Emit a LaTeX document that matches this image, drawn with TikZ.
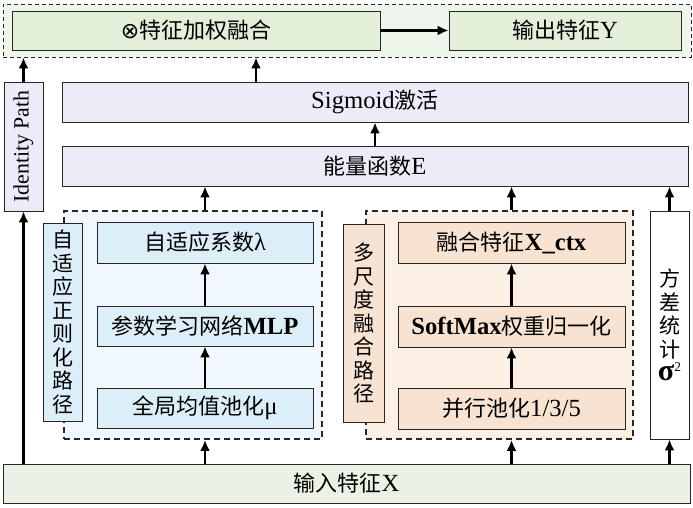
\documentclass[tikz,border=0pt]{standalone}
\usepackage{fontspec}
\setmainfont{Liberation Serif}[Scale=1.12]
\newfontfamily\cjk{Noto Sans CJK SC}
\newfontfamily\symf{DejaVu Sans}
\usepackage{tikz}
\usetikzlibrary{arrows.meta,positioning}
\newcommand{\zh}[1]{{\cjk #1}}

\definecolor{topfill}{HTML}{EEF5EA}
\definecolor{grnfill}{HTML}{E3EFD9}
\definecolor{inpfill}{HTML}{EBF2E5}
\definecolor{lavfill}{HTML}{EEEAF8}
\definecolor{lgrpfill}{HTML}{F0F8FD}
\definecolor{bluefill}{HTML}{DCEEF8}
\definecolor{rgrpfill}{HTML}{FCF0E4}
\definecolor{peachfill}{HTML}{F8E3D2}

\begin{document}
\begin{tikzpicture}[x=1pt,y=-1pt]

  % Define styles
  \tikzset{
    boxnode/.style={draw=black!85, line width=0.8pt, rectangle, inner sep=0pt,
      font=\fontsize{22}{28}\selectfont},
    grnnode/.style={boxnode, fill=grnfill},
    lavnode/.style={boxnode, fill=lavfill},
    bluenode/.style={boxnode, fill=bluefill},
    peachnode/.style={boxnode, fill=peachfill},
    vlabel/.style={align=center, font=\fontsize{21}{23.5}\selectfont},
    grpbox/.style={draw=black!85, line width=1.8pt, dash pattern=on 6pt off 4pt,
      rectangle, inner sep=0pt},
    arrowline/.style={-{Latex[length=11pt,width=10pt]}, line width=2.2pt}
  }

  \useasboundingbox (0,0) rectangle (693,507);

  % Output part
  \node[grpbox, line width=0.9pt, dash pattern=on 4pt off 3pt, fill=topfill,
    minimum width=688pt, minimum height=53pt] (topgrp) at (347,30.5) {};
  \node[grnnode, minimum width=368pt, minimum height=39pt] (fuse) at (196,30.5)
    {{\symf ⊗}\zh{特征加权融合}};
  \node[grnnode, minimum width=232pt, minimum height=39pt] (out) at (565,30.5)
    {\zh{输出特征}Y};

  % Identity path, activation and energy
  \node[lavnode, minimum width=129pt, minimum height=39pt, rotate=90,
    font=\fontsize{19.5}{24}\selectfont] (idp) at (23.5,146.5) {Identity Path};
  \node[lavnode, minimum width=626pt, minimum height=40pt] (sig) at (375,102)
    {Sigmoid\zh{激活}};
  \node[lavnode, minimum width=626pt, minimum height=40pt] (energy) at (375,166)
    {\zh{能量函数}E};

  % Adaptive regularization path
  \node[grpbox, fill=lgrpfill, minimum width=258pt, minimum height=228pt] (lgrp)
    at (193,325) {};
  \node[bluenode, vlabel, minimum width=39pt, minimum height=198pt] (lpath)
    at (62.5,322) {\zh{自}\\\zh{适}\\\zh{应}\\\zh{正}\\\zh{则}\\\zh{化}\\\zh{路}\\\zh{径}};
  \node[bluenode, minimum width=216pt, minimum height=41pt] (lam) at (205,242.5)
    {\zh{自适应系数}λ};
  \node[bluenode, minimum width=216pt, minimum height=40pt] (mlp) at (205,326)
    {\zh{参数学习网络}\textbf{MLP}};
  \node[bluenode, minimum width=216pt, minimum height=40pt] (mu) at (205,408)
    {\zh{全局均值池化}μ};

  % Multi-scale fusion path
  \node[grpbox, fill=rgrpfill, minimum width=267pt, minimum height=228pt] (rgrp)
    at (499.5,325) {};
  \node[peachnode, vlabel, minimum width=41pt, minimum height=198pt] (rpath)
    at (363.5,323) {\zh{多}\\\zh{尺}\\\zh{度}\\\zh{融}\\\zh{合}\\\zh{路}\\\zh{径}};
  \node[peachnode, minimum width=227pt, minimum height=41pt] (ctx) at (511.5,242.5)
    {\zh{融合特征}\textbf{X\_ctx}};
  \node[peachnode, minimum width=227pt, minimum height=41pt] (smax) at (511.5,326.5)
    {\textbf{SoftMax}\zh{权重归一化}};
  \node[peachnode, minimum width=227pt, minimum height=41pt] (pool) at (511.5,408.5)
    {\zh{并行池化}1/3/5};

  % Variance
  \node[boxnode, vlabel, fill=white, minimum width=39pt, minimum height=228pt]
    (var) at (669.5,325) {\zh{方}\\\zh{差}\\\zh{统}\\\zh{计}\\
    {\fontsize{27}{25}\selectfont\bfseries σ}{\fontsize{12}{12}\selectfont\raisebox{9pt}{2}}};

  % Input
  \node[grnnode, fill=inpfill, minimum width=687pt, minimum height=39pt] (inp)
    at (346.5,483.5) {\zh{输入特征}X};

  % Connectors
  \draw[arrowline] (fuse) -- (out);
  \draw[arrowline] (inp.north -| idp) -- (idp);
  \draw[arrowline] (idp) -- (idp |- topgrp.south);
  \draw[arrowline] ([xshift=-119pt]sig.north) -- ([xshift=-119pt]sig.north |- topgrp.south);
  \draw[arrowline] (energy) -- (sig);
  \draw[arrowline] (lam |- lgrp.north) -- (lam |- energy.south);
  \draw[arrowline] (ctx |- rgrp.north) -- (ctx |- energy.south);
  \draw[arrowline] (var) -- (var |- energy.south);
  \draw[arrowline] (mu) -- (mlp);
  \draw[arrowline] (mlp) -- (lam);
  \draw[arrowline] (pool) -- (smax);
  \draw[arrowline] (smax) -- (ctx);
  \draw[arrowline] (mu |- inp.north) -- (mu |- lgrp.south);
  \draw[arrowline] (pool |- inp.north) -- (pool |- rgrp.south);
  \draw[arrowline] (var |- inp.north) -- (var);

\end{tikzpicture}
\end{document}
